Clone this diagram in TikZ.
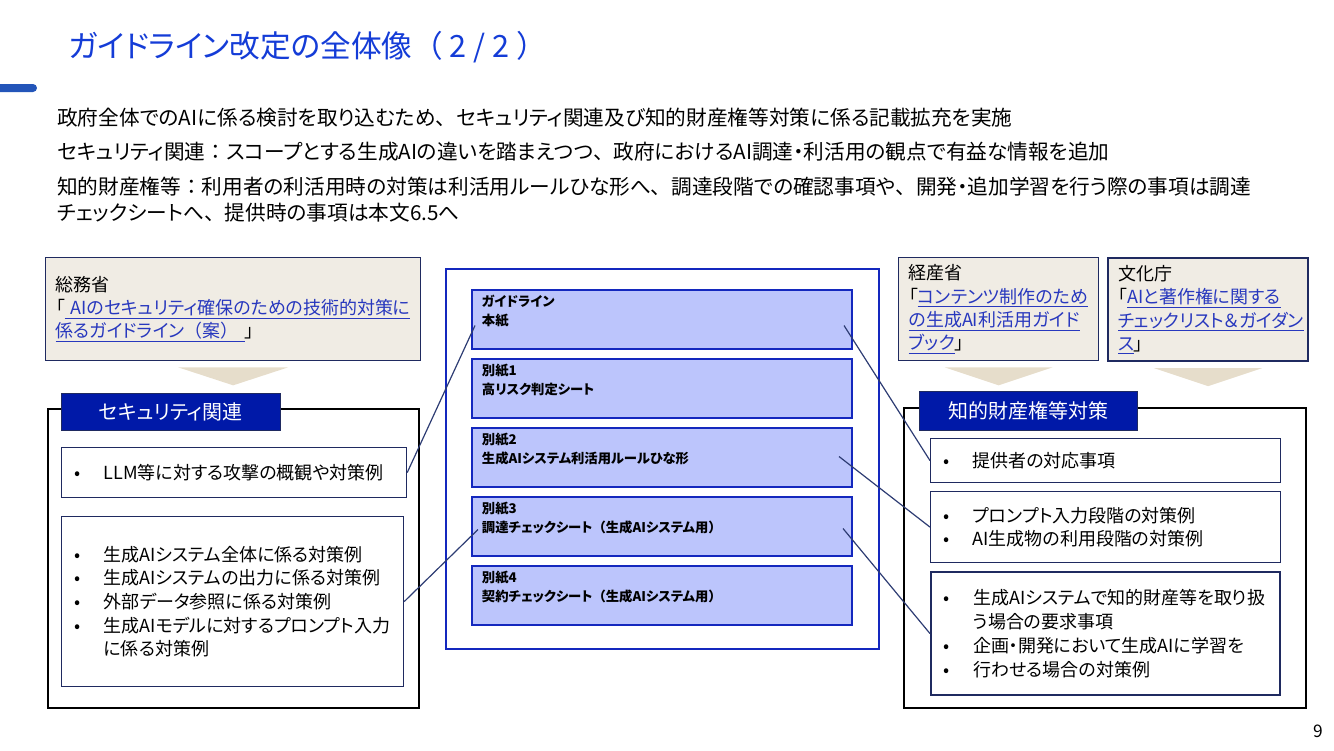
\documentclass[tikz,border=0pt]{standalone}
\usepackage{fontspec}
\setmainfont{Noto Sans CJK JP}[RawFeature=+palt]
\newfontfamily\fw{Noto Sans CJK JP}
\usetikzlibrary{positioning,calc}
\definecolor{titleblue}{RGB}{20,60,215}
\definecolor{barblue}{RGB}{35,85,185}
\definecolor{navy}{RGB}{31,42,96}
\definecolor{hdrblue}{RGB}{0,25,168}
\definecolor{sheetfill}{RGB}{188,197,252}
\definecolor{sheetline}{RGB}{20,40,190}
\definecolor{srcfill}{RGB}{240,236,228}
\definecolor{chevfill}{RGB}{230,221,203}
\definecolor{linkblue}{RGB}{40,56,190}
\definecolor{wireblue}{RGB}{45,60,115}

\newcommand{\bul}{\makebox[24pt][l]{\hspace{2pt}•}}
\newcommand{\cont}{\hspace*{24pt}}
\newcommand{\lnk}[1]{\textcolor{linkblue}{\underline{#1}}}
\newcommand{\fwc}{{\fw 、}}

\tikzset{
    boxsize/.style 2 args={minimum width=#1*0.75pt, minimum height=#2*0.75pt, text width=#1*0.75pt-15pt},
}
\tikzstyle{leadtext} = [anchor=west, align=left, inner sep=0pt, font=\fontsize{15.5}{19.5}\selectfont]
\tikzstyle{srcbox} = [rectangle, anchor=north west, draw=navy, line width=1pt, fill=srcfill, align=left, inner xsep=7.5pt, inner ysep=0pt, font=\fontsize{13.5}{17.5}\selectfont]
\tikzstyle{area} = [rectangle, anchor=north west, draw=black, line width=1.2pt]
\tikzstyle{hdr} = [rectangle, anchor=north west, draw=navy, fill=hdrblue, text=white, align=center, inner xsep=7.5pt, inner ysep=0pt, font=\fontsize{15}{18}\selectfont]
\tikzstyle{item} = [rectangle, anchor=north west, draw=navy, line width=0.9pt, fill=white, align=left, inner xsep=7.5pt, inner ysep=0pt, font=\fontsize{13.5}{17.8}\selectfont]
\tikzstyle{sheet} = [rectangle, draw=sheetline, line width=1.5pt, fill=sheetfill]
\tikzstyle{sheettext} = [align=left, inner sep=0pt, font=\bfseries\fontsize{10}{14.5}\selectfont]
\tikzstyle{chevron} = [fill=chevfill]
\tikzstyle{wire} = [draw=wireblue, line width=0.9pt]

\begin{document}
\begin{tikzpicture}[x=0.75pt, y=-0.75pt, node distance=6pt]
    \useasboundingbox (0,0) rectangle (1334,750);

    % Title
    \node (title) [anchor=west, inner sep=0pt, text=titleblue, font=\fontsize{23}{26}\selectfont] at (68,47) {ガイドライン改定の全体像{\fw （}\hspace{5pt}2 / 2\hspace{5pt}{\fw ）}};
    \fill[barblue, rounded corners=3pt] (-10,84) rectangle (37,92);

    % Lead text
    \node (lead) [leadtext] at (57,118) {政府全体でのAIに係る検討を取り込むため\fwc セキュリティ関連及び知的財産権等対策に係る記載拡充を実施};
    \node (leadsec) [leadtext] at (57,152) {セキュリティ関連{\fw ：}スコープとする生成AIの違いを踏まえつつ\fwc 政府におけるAI調達・利活用の観点で有益な情報を追加};
    \node (leadip) [leadtext, font=\fontsize{15.5}{19.5}\selectfont] at (57,200) {知的財産権等{\fw ：}利用者の利活用時の対策は利活用ルールひな形へ\fwc 調達段階での確認事項や\fwc 開発・追加学習を行う際の事項は調達\\チェックシートへ\fwc 提供時の事項は本文6.5へ};

    % Sources
    \node (somu) [srcbox, boxsize={375}{103}] at (45,257) {総務省\\「\lnk{\ AIのセキュリティ確保のための技術的対策に}\\\lnk{係るガイドライン{\fw （}案{\fw ）}\ }」};
    \node (keisan) [srcbox, boxsize={200}{103}] at (898,257) {経産省\\「\lnk{コンテンツ制作のため}\\\lnk{の生成AI利活用ガイド}\\\lnk{ブック}」};
    \node (bunka) [srcbox, line width=1.6pt, boxsize={200}{103}] at (1107,257) {文化庁\\「\lnk{AIと著作権に関する}\\\lnk{チェックリスト＆ガイダン}\\\lnk{ス}」};
    \fill[chevron] ($(somu.south)+(-55,6)$) -- ($(somu.south)+(55,6)$) -- ($(somu.south)+(0,24)$) -- cycle;
    \fill[chevron] ($(keisan.south)+(-54,6)$) -- ($(keisan.south)+(54,6)$) -- ($(keisan.south)+(0,24)$) -- cycle;
    \fill[chevron] ($(bunka.south)+(-54,6)$) -- ($(bunka.south)+(54,6)$) -- ($(bunka.south)+(0,24)$) -- cycle;

    % Security
    \node (secarea) [area, boxsize={371}{299}] at (47,408) {};
    \node (sechdr) [hdr, boxsize={219}{37}] at (61,393) {セキュリティ関連};
    \node (secatk) [item, boxsize={345}{50}] at (61,447) {\bul LLM等に対する攻撃の概観や対策例};
    \node (secmeas) [item, boxsize={342}{170}] at (61,516) {\bul 生成AIシステム全体に係る対策例\\\bul 生成AIシステムの出力に係る対策例\\\bul 外部データ参照に係る対策例\\\bul 生成AIモデルに対するプロンプト入力\\\cont に係る対策例};

    % Guideline set
    \node (docset) [rectangle, anchor=north west, draw=sheetline, line width=1.5pt, boxsize={433}{380}] at (445,268) {};
    \node (honshi) [sheet, anchor=north west, boxsize={380}{59}] at (471,289) {};
    \node (bessi1) [sheet, boxsize={380}{59}, below=of honshi] {};
    \node (bessi2) [sheet, boxsize={380}{59}, below=of bessi1] {};
    \node (bessi3) [sheet, boxsize={380}{59}, below=of bessi2] {};
    \node (bessi4) [sheet, boxsize={380}{59}, below=of bessi3] {};
    \node (honshiT) [sheettext, below right=4pt and 8pt of honshi.north west] {ガイドライン\\本紙};
    \node (bessi1T) [sheettext, below right=4pt and 8pt of bessi1.north west] {別紙1\\高リスク判定シート};
    \node (bessi2T) [sheettext, below right=4pt and 8pt of bessi2.north west] {別紙2\\生成AIシステム利活用ルールひな形};
    \node (bessi3T) [sheettext, below right=4pt and 8pt of bessi3.north west] {別紙3\\調達チェックシート{\fw （}生成AIシステム用{\fw ）}};
    \node (bessi4T) [sheettext, below right=4pt and 8pt of bessi4.north west] {別紙4\\契約チェックシート{\fw （}生成AIシステム用{\fw ）}};

    % IP
    \node (iparea) [area, boxsize={402}{300}] at (903,407) {};
    \node (iphdr) [hdr, boxsize={218}{39}] at (919,391) {知的財産権等対策};
    \node (ipprov) [item, boxsize={350}{44}] at (930,438) {\bul 提供者の対応事項};
    \node (ipuse) [item, boxsize={350}{71}] at (930,491) {\bul プロンプト入力段階の対策例\\\bul AI生成物の利用段階の対策例};
    \node (ipdev) [item, line width=1.6pt, boxsize={349}{123}] at (930,571) {\bul 生成AIシステムで知的財産等を取り扱\\\cont う場合の要求事項\\\bul 企画・開発において生成AIに学習を\\\bul 行わせる場合の対策例};

    % Wires
    \coordinate (honshiL) at ($(honshi.west)+(4,6)$);
    \coordinate (honshiR) at ($(honshi.east)+(-9,6)$);
    \coordinate (bessi2R) at ($(bessi2.east)+(-14,-1)$);
    \coordinate (bessi3L) at ($(bessi3.west)+(7,3)$);
    \coordinate (bessi3R) at ($(bessi3.east)+(-10,2)$);
    \draw[wire] (secatk.east) -- (honshiL);
    \draw[wire] (secmeas.east) -- (bessi3L);
    \draw[wire] (honshiR) -- (ipprov.west);
    \draw[wire] (bessi2R) -- (ipuse.west);
    \draw[wire] (bessi3R) -- (ipdev.west);

    % Page number
    \node (pageno) [font=\fontsize{13}{15}\selectfont] at (1318,731) {9};
\end{tikzpicture}
\end{document}
